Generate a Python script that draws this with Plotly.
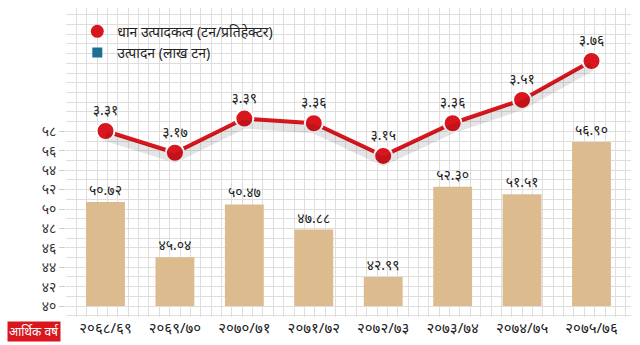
import plotly.graph_objects as go

# Fiscal years (Bikram Sambat)
years = ["२०६८/६९", "२०६९/७०", "२०७०/७१", "२०७१/७२",
         "२०७२/७३", "२०७३/७४", "२०७४/७५", "२०७५/७६"]
# Paddy production (lakh tonnes)
production = [50.72, 45.04, 50.47, 47.88, 42.99, 52.30, 51.51, 56.90]
# Paddy productivity (tonnes per hectare)
productivity = [3.31, 3.17, 3.39, 3.36, 3.15, 3.36, 3.51, 3.76]
# Left axis ticks
y_ticks = [40, 42, 44, 46, 48, 50, 52, 54, 56, 58]

BASE = 40
DIGITS = str.maketrans("0123456789", "०१२३४५६७८९")


def nep(v, fmt="{:.2f}"):
    return fmt.format(v).translate(DIGITS)


FONT = "Noto Sans, Noto Sans Devanagari, sans-serif"
RED = "#d9161e"
TAN = "#dcbc8e"
BLUE = "#1d6f94"
GRID = "#dedede"

Y2_RANGE = [2.114, 4.101]
SHADOW_SHIFT = 0.035  # drop-shadow offset in productivity units

fig = go.Figure()

# fine background grid (vertical lines) on a hidden linear axis
fig.add_trace(go.Scatter(x=[0], y=[None], xaxis="x2", yaxis="y",
                         showlegend=False, hoverinfo="skip"))

fig.add_trace(go.Bar(
    x=years, y=[v - BASE for v in production], base=BASE,
    marker=dict(color=TAN, line=dict(width=0)), width=0.56,
    text=[nep(v) for v in production], textposition="outside",
    textfont=dict(size=14, color="#222222", family=FONT),
    cliponaxis=False, showlegend=False, hoverinfo="skip",
))

# soft shadow under the productivity line
fig.add_trace(go.Scatter(
    x=years, y=productivity, yaxis="y3", mode="lines",
    line=dict(color="rgba(0,0,0,0.10)", width=9),
    showlegend=False, hoverinfo="skip",
))

fig.add_trace(go.Scatter(
    x=years, y=productivity, yaxis="y2", mode="lines+markers+text",
    line=dict(color=RED, width=4),
    marker=dict(size=18, color=RED, line=dict(color="white", width=2)),
    text=[nep(v) for v in productivity], textposition="top center",
    textfont=dict(size=14, color="#222222", family=FONT),
    cliponaxis=False, showlegend=False,
))

# legend entries
fig.add_trace(go.Scatter(x=[None], y=[None], mode="markers", name="धान उत्पादकत्व (टन/प्रतिहेक्टर)",
                         marker=dict(symbol="circle", size=13, color=RED)))
fig.add_trace(go.Scatter(x=[None], y=[None], mode="markers", name="उत्पादन (लाख टन)",
                         marker=dict(symbol="square", size=10, color=BLUE)))

fig.update_layout(
    width=640, height=345,
    margin=dict(l=66, r=9, t=8, b=23),
    paper_bgcolor="white", plot_bgcolor="white",
    font=dict(family=FONT, color="#333333"),
    xaxis=dict(
        type="category", showgrid=False, ticks="", zeroline=False,
        tickfont=dict(size=15, color="#222222"),
    ),
    xaxis2=dict(
        overlaying="x", anchor="y", range=[0, 54.5], dtick=1,
        showgrid=True, gridcolor=GRID, gridwidth=1,
        showticklabels=False, ticks="", zeroline=False, layer="below traces",
    ),
    yaxis=dict(
        range=[38.88, 70.7], tickvals=y_ticks,
        ticktext=[nep(v, "{:d}") for v in y_ticks],
        showgrid=True, gridcolor=GRID, gridwidth=1,
        minor=dict(dtick=1, showgrid=True, gridcolor=GRID),
        ticks="outside", ticklen=6, tickcolor="#cccccc",
        tickfont=dict(size=14, color="#333333"), zeroline=False,
    ),
    yaxis2=dict(overlaying="y", range=Y2_RANGE, visible=False),
    yaxis3=dict(overlaying="y",
                range=[Y2_RANGE[0] + SHADOW_SHIFT, Y2_RANGE[1] + SHADOW_SHIFT],
                visible=False),
    legend=dict(
        x=0.02, y=0.975, xanchor="left", yanchor="top",
        bgcolor="rgba(0,0,0,0)", font=dict(size=14, color="#222222"),
        itemwidth=30, tracegroupgap=0,
    ),
    annotations=[dict(
        text="आर्थिक वर्ष", xref="paper", yref="paper", x=-0.105, y=-0.012,
        xanchor="left", yanchor="top", showarrow=False,
        font=dict(size=12, color="white"), bgcolor=RED, borderpad=1,
    )],
)

fig.write_html("out.html")
